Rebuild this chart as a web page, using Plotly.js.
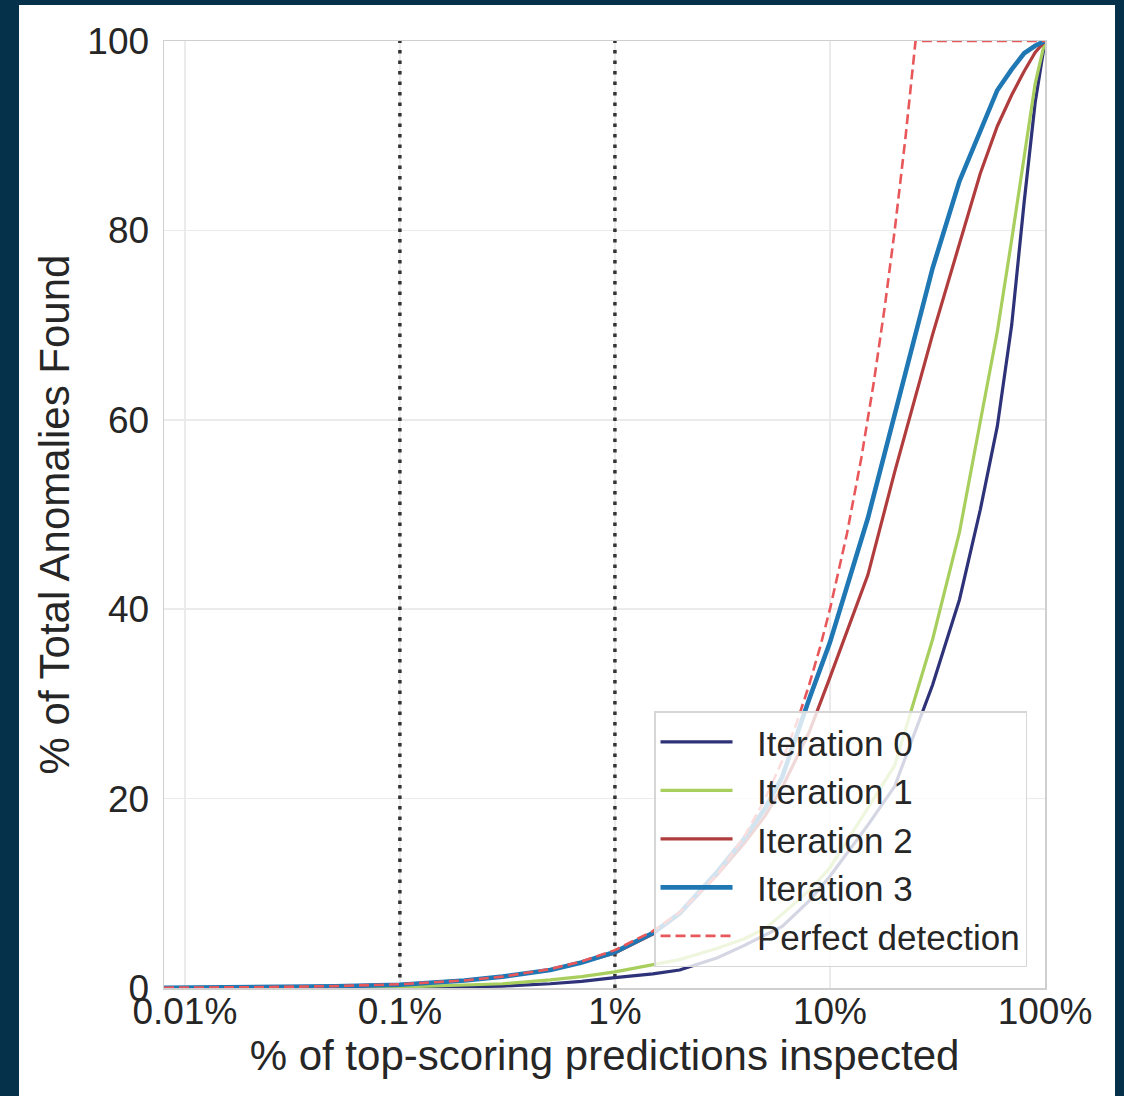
<!DOCTYPE html>
<html>
<head>
<meta charset="utf-8">
<script src="https://cdn.plot.ly/plotly-3.0.1.min.js"></script>
<style>
  html, body { margin: 0; padding: 0; background: #05324a; width: 1124px; height: 1096px; overflow: hidden; }
  #chart { position: absolute; left: 19px; top: 5px; width: 1096px; height: 1091px; background: #ffffff; }
</style>
</head>
<body>
<div id="chart"></div>
<script>
// ---- data ----
const pctInspected = [0.008, 0.01, 0.02, 0.05, 0.1, 0.2, 0.3, 0.5, 0.7, 1, 1.5, 2, 3, 4, 5, 6, 8, 10, 15, 20, 30, 40, 50, 60, 70, 80, 90, 100];

const iteration0 = [0, 0, 0.01, 0.02, 0.05, 0.12, 0.2, 0.45, 0.7, 1.1, 1.5, 1.9, 3.2, 4.5, 5.6, 6.5, 9.2, 11.8, 17.2, 21.3, 32, 41, 50.5, 59.3, 70, 83, 93.5, 100];
const iteration1 = [0.01, 0.01, 0.02, 0.05, 0.1, 0.3, 0.45, 0.85, 1.2, 1.7, 2.5, 3.0, 4.2, 5.2, 6.3, 7.8, 10.3, 12.7, 19, 23.5, 36.8, 48.1, 59.8, 69.3, 79, 88, 95.5, 100];
const iteration2 = [0.02, 0.03, 0.07, 0.17, 0.35, 0.8, 1.2, 1.9, 2.7, 3.7, 5.7, 7.8, 12, 15.3, 18.2, 21.2, 27, 32.8, 43.6, 54.5, 69, 78.5, 86, 91, 94.3, 96.8, 98.8, 100];
const iteration3 = [0.02, 0.03, 0.07, 0.17, 0.35, 0.8, 1.2, 1.9, 2.7, 3.8, 5.8, 7.9, 12.3, 15.8, 19, 22.3, 30.5, 36.5, 49.6, 60.5, 76, 85.2, 90.5, 94.8, 97, 98.7, 99.5, 100];

const perfectX = [0.008, 0.01, 0.02, 0.05, 0.1, 0.2, 0.3, 0.5, 0.7, 1, 1.5, 2, 3, 4, 5, 6, 7, 8, 9, 10, 12, 14, 16, 18, 20, 22.5, 25, 100];
const perfectY = [0.032, 0.04, 0.08, 0.2, 0.4, 0.8, 1.2, 2, 2.8, 4, 6, 8, 12, 16, 20, 24, 28, 32, 36, 40, 48, 56, 64, 72, 80, 90, 100, 100];

const seriesNames = ["Iteration 0", "Iteration 1", "Iteration 2", "Iteration 3", "Perfect detection"];
const markerPcts = [0.1, 1];

const xTickVals = [0.01, 0.1, 1, 10, 100];
const xTickText = ["0.01%", "0.1%", "1%", "10%", "100%"];
const yTickVals = [0, 20, 40, 60, 80, 100];
const yTickText = ["0", "20", "40", "60", "80", "100"];

// ---- styling ----
const FONT = "Liberation Sans, Arial, Helvetica, sans-serif";
const TXT = "#262626";
const PAD = "\u00a0\u00a0"; // gap between legend line sample and label

const traces = [];
markerPcts.forEach(p => {
  traces.push({
    x: [p, p], y: [0, 100], mode: "lines", showlegend: false, hoverinfo: "skip",
    line: { color: "#333333", width: 3.5, dash: "3.5px,7px" }
  });
});
const lineSeries = [iteration0, iteration1, iteration2, iteration3];
const colors = ["#2e3278", "#a8cf5d", "#b03c3d", "#1f78b4"];
const widths = [3.2, 3.2, 3.2, 4.6];
lineSeries.forEach((ys, i) => {
  traces.push({
    x: pctInspected, y: ys, mode: "lines", name: PAD + seriesNames[i],
    line: { color: colors[i], width: widths[i] }
  });
});
traces.push({
  x: perfectX, y: perfectY, mode: "lines", name: PAD + seriesNames[4],
  line: { color: "#e8585b", width: 2.6, dash: "10px,5px" }
});

const layout = {
  width: 1096, height: 1091,
  paper_bgcolor: "#ffffff", plot_bgcolor: "#ffffff",
  margin: { l: 145, r: 70, t: 36, b: 108 },
  font: { family: FONT, color: TXT, size: 37 },
  showlegend: true,
  xaxis: {
    type: "log",
    range: [Math.log10(0.008), 2],
    tickvals: xTickVals, ticktext: xTickText,
    ticks: "", ticklabelstandoff: -10,
    tickfont: { size: 37, color: TXT, family: FONT },
    showgrid: true, gridcolor: "#ebebeb", gridwidth: 1.5,
    showline: true, linecolor: "#cfcfcf", linewidth: 1.5, mirror: true,
    zeroline: false,
    title: { text: "% of top-scoring predictions inspected", font: { size: 42, color: TXT, family: FONT }, standoff: 2 }
  },
  yaxis: {
    range: [0, 100],
    tickvals: yTickVals, ticktext: yTickText,
    ticks: "outside", ticklen: 6, tickcolor: "rgba(0,0,0,0)",
    tickfont: { size: 37, color: TXT, family: FONT },
    showgrid: true, gridcolor: "#ebebeb", gridwidth: 1.5,
    showline: true, linecolor: "#cfcfcf", linewidth: 1.5, mirror: true,
    zeroline: false,
    title: { text: "% of Total Anomalies Found", font: { size: 42, color: TXT, family: FONT }, standoff: 4 }
  },
  legend: {
    x: 0.9796, xanchor: "right", y: 0.022, yanchor: "bottom",
    bgcolor: "rgba(255,255,255,0.8)", bordercolor: "#d6d6d6", borderwidth: 1.5,
    font: { size: 35, color: TXT, family: FONT },
    itemwidth: 72
  }
};

Plotly.newPlot("chart", traces, layout, { displayModeBar: false, staticPlot: true });
</script>
</body>
</html>
